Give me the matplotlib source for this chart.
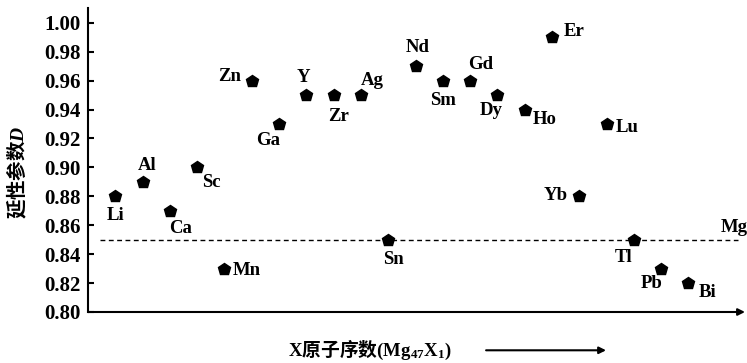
import matplotlib
matplotlib.use('Agg')
import matplotlib.pyplot as plt

# 数据
elements = ['Li', 'Al', 'Ca', 'Sc', 'Mn', 'Zn', 'Ga', 'Y', 'Zr', 'Ag', 'Sn',
            'Nd', 'Sm', 'Gd', 'Dy', 'Ho', 'Er', 'Yb', 'Lu', 'Tl', 'Pb', 'Bi']
ductility = [0.88, 0.89, 0.87, 0.90, 0.83, 0.96, 0.93, 0.95, 0.95, 0.95, 0.85,
             0.97, 0.96, 0.96, 0.95, 0.94, 0.99, 0.88, 0.93, 0.85, 0.83, 0.82]
mg_value = 0.85
yticks = [0.80, 0.82, 0.84, 0.86, 0.88, 0.90, 0.92, 0.94, 0.96, 0.98, 1.00]

# 标签偏移(像素)
offsets = {'Li': (0, -19), 'Al': (5, 16), 'Ca': (11, -18), 'Sc': (14, -15),
           'Mn': (22, -2), 'Zn': (-22, 4), 'Ga': (-11, -16), 'Y': (-3, 18),
           'Zr': (5, -21), 'Ag': (11, 15), 'Sn': (5, -20), 'Nd': (2, 19),
           'Sm': (0, -20), 'Gd': (11, 16), 'Dy': (-6, -15), 'Ho': (20, -10),
           'Er': (22, 6), 'Yb': (-24, 1), 'Lu': (21, -3), 'Tl': (-10, -18),
           'Pb': (-10, -15), 'Bi': (19, -9)}

plt.rcParams['font.family'] = ['Liberation Serif', 'Noto Sans CJK SC']
plt.rcParams['font.weight'] = 'bold'
plt.rcParams['mathtext.fontset'] = 'custom'
plt.rcParams['mathtext.rm'] = 'Liberation Serif:bold'
plt.rcParams['mathtext.it'] = 'Liberation Serif:italic:bold'
plt.rcParams['mathtext.bf'] = 'Liberation Serif:bold'
plt.rcParams['mathtext.default'] = 'rm'

fig = plt.figure(figsize=(7.47, 3.63), dpi=100)
ax = fig.add_axes([0.1178, 0.1405, 0.8795, 0.837])

x = list(range(1, len(elements) + 1))
ax.plot(x, ductility, linestyle='none', marker='p', markersize=9, color='black')
for xi, yi, name in zip(x, ductility, elements):
    ax.annotate(name, (xi, yi), xytext=offsets[name], textcoords='offset pixels',
                ha='center', va='center', fontsize=13.5, fontweight='bold')

ax.hlines(mg_value, 0.45, 23.8, colors='black', linestyles=(0, (3.5, 2.5)), linewidth=1)
ax.annotate('Mg', (23.8, mg_value), xytext=(-3, 12), textcoords='offset pixels',
            ha='center', va='center', fontsize=13.5, fontweight='bold')

ax.set_xlim(0, 24.07)
ax.set_ylim(0.80, 1.0101)
ax.set_yticks(yticks)
ax.set_yticklabels(['%.2f' % v for v in yticks], fontsize=15, fontweight='bold')
ax.set_xticks([])
ax.tick_params(axis='y', direction='in', length=4, width=1.5, pad=5)

for s in ['top', 'right', 'bottom']:
    ax.spines[s].set_visible(False)
ax.spines['left'].set_linewidth(1.5)
ax.spines['left'].set_bounds(0.80, 1.0101)

# x轴箭头
ax.annotate('', xy=(1.0, 0), xytext=(0, 0), xycoords='axes fraction',
            arrowprops=dict(arrowstyle='-|>', color='black', lw=1.5,
                            mutation_scale=10, shrinkA=0, shrinkB=0))

fig.text(0.022, 0.526, r'延性参数$\mathit{D}$', rotation=90, ha='center', va='center',
         fontsize=14, family=['Noto Sans CJK SC'], fontweight='bold')
fig.text(0.495, 0.035, r'$\mathrm{X}$原子序数$\mathrm{(Mg}_{47}\mathrm{X}_{1}\mathrm{)}$',
         ha='center', va='center', fontsize=13.5, family=['Noto Sans CJK SC'], fontweight='bold')
fig.add_artist(matplotlib.patches.FancyArrowPatch((0.647, 0.035), (0.815, 0.035),
               transform=fig.transFigure, arrowstyle='-|>', mutation_scale=10,
               color='black', lw=1.5))

plt.savefig('out.png', dpi=100)
